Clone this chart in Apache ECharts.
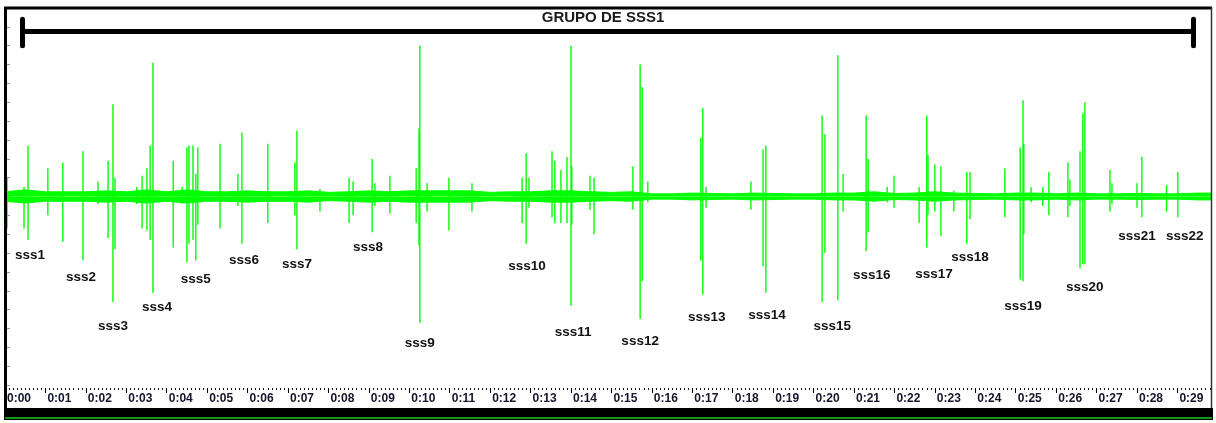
<!DOCTYPE html>
<html>
<head>
<meta charset="utf-8">
<script src="https://cdn.jsdelivr.net/npm/echarts@6/dist/echarts.min.js"></script>
<style>
html,body{margin:0;padding:0;background:#fff;}
#chart{width:1216px;height:423px;}
</style>
</head>
<body>
<div id="chart"></div>
<script>
// ---- data (time in seconds, amplitude normalised -1..1) ----
const tickLabels = ['0:00','0:01','0:02','0:03','0:04','0:05','0:06','0:07','0:08','0:09',
  '0:10','0:11','0:12','0:13','0:14','0:15','0:16','0:17','0:18','0:19',
  '0:20','0:21','0:22','0:23','0:24','0:25','0:26','0:27','0:28','0:29'];

const eventNames = ['sss1','sss2','sss3','sss4','sss5','sss6','sss7','sss8','sss9','sss10','sss11',
  'sss12','sss13','sss14','sss15','sss16','sss17','sss18','sss19','sss20','sss21','sss22'];
const eventLabelTimes = [0.62,1.88,2.67,3.76,4.72,5.91,7.22,8.98,10.26,12.91,14.05,
  15.71,17.36,18.85,20.46,21.44,22.98,23.87,25.18,26.71,28.00,29.18];
const eventLabelLevels = [-0.31,-0.43,-0.69,-0.59,-0.44,-0.34,-0.36,-0.27,-0.78,-0.37,-0.72,
  -0.77,-0.64,-0.63,-0.69,-0.42,-0.41,-0.32,-0.58,-0.48,-0.21,-0.21];

// spikes: [time, peak max, peak min]
const spikes = [
  [0.05,0.10,-0.17],[0.47,0.05,-0.17],[0.57,0.27,-0.23],[1.06,0.15,-0.10],[1.43,0.18,-0.24],
  [1.93,0.24,-0.34],[2.30,0.08,-0.04],[2.55,0.19,-0.22],[2.67,0.49,-0.56],[2.72,0.10,-0.28],
  [3.26,0.05,-0.04],[3.39,0.11,-0.17],[3.51,0.15,-0.18],[3.59,0.27,-0.23],[3.66,0.71,-0.51],
  [4.16,0.19,-0.27],[4.38,0.05,-0.04],[4.50,0.26,-0.35],[4.55,0.27,-0.25],[4.65,0.27,-0.23],
  [4.72,0.12,-0.34],[4.77,0.26,-0.15],[5.32,0.28,-0.17],[5.76,0.12,-0.05],[5.86,0.34,-0.25],
  [6.50,0.28,-0.14],[7.17,0.18,-0.10],[7.22,0.35,-0.28],[7.79,0.04,-0.08],[8.51,0.10,-0.14],
  [8.61,0.08,-0.10],[9.08,0.20,-0.19],[9.15,0.07,-0.05],[9.52,0.11,-0.09],[10.17,0.15,-0.14],
  [10.24,0.36,-0.26],[10.26,0.80,-0.67],[10.44,0.07,-0.08],[10.98,0.10,-0.18],[11.55,0.07,-0.08],
  [12.79,0.10,-0.14],[12.89,0.23,-0.25],[12.96,0.10,-0.06],[13.53,0.24,-0.11],[13.60,0.19,-0.14],
  [13.75,0.14,-0.14],[13.90,0.21,-0.14],[14.00,0.80,-0.58],[14.02,0.16,-0.15],[14.47,0.11,-0.07],
  [14.57,0.10,-0.20],[15.53,0.16,-0.07],[15.71,0.70,-0.65],[15.76,0.58,-0.45],[15.90,0.08,-0.03],
  [17.21,0.31,-0.34],[17.26,0.47,-0.52],[17.34,0.05,-0.06],[18.45,0.08,-0.07],[18.75,0.25,-0.37],
  [18.82,0.27,-0.51],[20.21,0.43,-0.56],[20.28,0.33,-0.30],[20.60,0.75,-0.55],[20.73,0.12,-0.08],
  [21.30,0.43,-0.29],[21.35,0.20,-0.19],[21.82,0.05,-0.03],[21.99,0.11,-0.06],[22.61,0.05,-0.14],
  [22.80,0.43,-0.27],[22.83,0.22,-0.10],[23.00,0.17,-0.08],[23.15,0.16,-0.21],[23.47,0.03,-0.08],
  [23.79,0.13,-0.25],[23.87,0.13,-0.12],[24.73,0.15,-0.11],[25.11,0.26,-0.44],[25.18,0.51,-0.45],
  [25.20,0.28,-0.20],[25.38,0.05,-0.03],[25.67,0.05,-0.05],[25.82,0.13,-0.10],[26.29,0.18,-0.11],
  [26.34,0.09,-0.05],[26.59,0.24,-0.38],[26.66,0.44,-0.36],[26.71,0.50,-0.36],[27.33,0.14,-0.08],
  [27.38,0.07,-0.04],[28.00,0.07,-0.06],[28.12,0.21,-0.11],[28.73,0.06,-0.08],[29.01,0.13,-0.11]
];

// background noise envelope (amplitude of the baseline band)
const noiseTimes = [0,0.5,1,1.5,2,2.5,3,3.5,4,4.5,5,5.5,6,6.5,7,7.5,8,8.5,9,9.5,
  10,10.5,11,11.5,12,12.5,13,13.5,14,14.5,15,15.5,16,16.5,17,17.5,18,18.5,19,19.5,
  20,20.5,21,21.5,22,22.5,23,23.5,24,24.5,25,25.5,26,26.5,27,27.5,28,28.5,29,29.5,29.83];
const noiseAmps = [0.025,0.035,0.025,0.025,0.025,0.03,0.025,0.035,0.025,0.035,0.025,0.025,0.03,0.025,0.025,0.03,0.022,0.025,0.03,0.025,
  0.03,0.03,0.03,0.03,0.022,0.025,0.025,0.03,0.03,0.025,0.022,0.025,0.014,0.014,0.018,0.016,0.014,0.018,0.016,0.014,
  0.014,0.018,0.018,0.025,0.016,0.018,0.025,0.018,0.016,0.014,0.018,0.018,0.014,0.018,0.014,0.014,0.016,0.014,0.014,0.018,0.018];

const groupTitle = 'GRUPO DE SSS1';
const bracketTimes = [0.43, 29.40];
const bracketLevel = 0.875;
const bracketCap = [0.80, 0.94];
const timeMax = 29.83;

// ---- chart ----
const GREEN = '#00ff00';
const chart = echarts.init(document.getElementById('chart'), null, {renderer:'canvas'});

const upper = noiseTimes.map((t,i)=>[t, noiseAmps[i]]);
const lower = noiseTimes.map((t,i)=>[t, -noiseAmps[i]]);
const labelData = eventNames.map((n,i)=>({name:n, value:[eventLabelTimes[i], eventLabelLevels[i]]}));

const option = {
  animation:false,
  backgroundColor:'#ffffff',
  grid:{left:5, right:5, top:8, bottom:38, containLabel:false},
  xAxis:{
    type:'value', min:0, max:timeMax, interval:1, offset:3,
    axisLine:{show:true, onZero:false, lineStyle:{color:'rgba(0,0,0,0)', width:1}},
    axisTick:{show:true, length:5, lineStyle:{color:'#000', width:1}},
    minorTick:{show:true, splitNumber:10, length:2, lineStyle:{color:'#111', width:1}},
    splitLine:{show:false},
    axisLabel:{
      show:true, align:'left', margin:5, padding:[0,0,0,2],
      fontSize:12, fontWeight:'bold', color:'#14142a', fontFamily:'Liberation Sans, Arial, sans-serif',
      showMaxLabel:false,
      formatter:function(v){ const i=Math.round(v); return Math.abs(v-i)<1e-6 && tickLabels[i]!==undefined ? tickLabels[i] : ''; }
    }
  },
  yAxis:{
    type:'value', min:-1, max:1, interval:0.1,
    axisLine:{show:false},
    axisTick:{show:true, inside:true, length:5, lineStyle:{color:'#999', width:1}},
    axisLabel:{show:false},
    splitLine:{show:false}
  },
  series:[
    {type:'line', data:upper, showSymbol:false, symbol:'none', silent:true,
     lineStyle:{color:GREEN, width:1}, areaStyle:{color:GREEN, opacity:1}, z:2},
    {type:'line', data:lower, showSymbol:false, symbol:'none', silent:true,
     lineStyle:{color:GREEN, width:1}, areaStyle:{color:GREEN, opacity:1}, z:2},
    {type:'custom', data:spikes, z:3, silent:true,
     encode:{x:0, y:[1,2]},
     renderItem:function(params, api){
       const t=api.value(0);
       const p1=api.coord([t, api.value(1)]);
       const p2=api.coord([t, api.value(2)]);
       return {type:'line', shape:{x1:p1[0], y1:p1[1], x2:p2[0], y2:p2[1]},
               style:{stroke:GREEN, lineWidth:1.4}};
     }},
    {type:'scatter', data:labelData, symbolSize:1, z:4, silent:true,
     itemStyle:{color:'rgba(0,0,0,0)'},
     label:{show:true, position:'inside', formatter:'{b}', color:'#111', opacity:1,
            textBorderWidth:0, textShadowBlur:0,
            fontSize:13.5, fontWeight:'bold', fontFamily:'Liberation Sans, Arial, sans-serif'},
     markLine:{
       silent:true, symbol:['none','none'], animation:false,
       label:{show:false},
       lineStyle:{color:'#000', width:5, type:'solid', cap:'round'},
       data:[
         [{coord:[bracketTimes[0], bracketLevel]}, {coord:[bracketTimes[1], bracketLevel]}],
         [{coord:[bracketTimes[0], bracketCap[0]]}, {coord:[bracketTimes[0], bracketCap[1]]}],
         [{coord:[bracketTimes[1], bracketCap[0]]}, {coord:[bracketTimes[1], bracketCap[1]]}]
       ]
     }}
  ],
  graphic:[
    {type:'text', x:603, y:18, z:10, style:{text:groupTitle, fill:'#1a1a1a', font:'bold 15px "Liberation Sans", Arial, sans-serif', align:'center', verticalAlign:'middle'}},
    {type:'line', z:10, shape:{x1:4, y1:8, x2:1212, y2:8}, style:{stroke:'#000', lineWidth:3}},
    {type:'line', z:10, shape:{x1:5.5, y1:7, x2:5.5, y2:408}, style:{stroke:'#000', lineWidth:3}},
    {type:'line', z:10, shape:{x1:1211.5, y1:7, x2:1211.5, y2:408}, style:{stroke:'#333', lineWidth:1.5}},
    {type:'rect', z:10, shape:{x:4, y:408, width:1209, height:12}, style:{fill:'#000'}},
    {type:'line', z:11, shape:{x1:5, y1:418, x2:1212, y2:418}, style:{stroke:'#1ec81e', lineWidth:1.5}}
  ]
};
chart.setOption(option);
</script>
</body>
</html>
